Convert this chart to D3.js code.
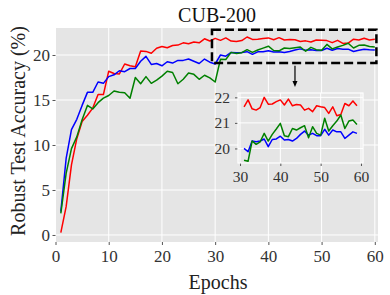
<!DOCTYPE html>
<html><head><meta charset="utf-8">
<script src="https://cdn.jsdelivr.net/npm/d3@7"></script>
<style>
body{margin:0;background:#fff}
svg{display:block}
text{font-family:"Liberation Serif","Times New Roman",serif}
</style>
</head><body>
<svg id="c" width="390" height="295"></svg>
<script>
const epochs=[1,2,3,4,5,6,7,8,9,10,11,12,13,14,15,16,17,18,19,20,21,22,23,24,25,26,27,28,29,30,
31,32,33,34,35,36,37,38,39,40,41,42,43,44,45,46,47,48,49,50,51,52,53,54,55,56,57,58,59,60];
const redSeries=[0.26,3.15,7.8,10.7,12.6,13.3,14.1,15.6,15.6,18.2,
17.95,17.9,19.0,18.8,18.7,20.45,20.4,20.2,20.75,20.95,
20.8,21.05,21.1,21.35,21.25,21.45,21.35,21.8,21.55,21.85,
21.63,21.9,21.55,21.5,21.6,22.0,21.73,21.74,21.83,21.9,
21.7,21.93,21.67,21.72,21.7,21.5,21.57,21.44,21.67,21.63,
21.6,21.37,21.63,21.28,21.33,21.76,21.67,21.86,21.67,21.75];
const blueSeries=[2.6,8.5,11.7,12.85,14.4,15.85,15.85,17.0,16.85,17.6,
17.8,18.25,18.15,18.5,18.5,19.3,19.85,18.95,19.05,18.8,
19.25,19.1,19.4,19.4,19.55,19.3,19.05,19.55,19.2,19.0,
20.0,19.87,20.29,20.26,20.29,20.37,20.07,20.35,20.37,20.48,
20.33,20.35,20.29,20.39,20.55,20.68,20.52,20.59,20.5,20.5,
20.75,20.52,20.72,20.65,20.65,20.39,20.52,20.65,20.59,20.55];
const greenSeries=[2.4,6.85,9.6,10.9,12.8,14.4,14.0,14.7,15.2,15.5,
16.0,15.85,15.8,15.2,17.5,16.8,17.6,16.85,17.2,17.65,
18.2,18.05,16.8,17.3,18.0,17.85,17.3,17.75,17.45,17.0,
19.54,19.5,20.29,20.16,20.26,20.59,20.29,20.55,20.76,20.98,
20.5,20.46,20.78,20.72,20.81,20.89,20.42,20.85,20.59,20.52,
21.18,20.68,20.89,21.07,21.31,20.78,21.07,21.11,20.94,20.9];
const seriesColors=["#ff0000","#0000ff","#008000"];
const xTickVals=[0,10,20,30,40,50,60];
const yTickVals=[0,5,10,15,20];
const insetXTicks=[30,40,50,60];
const insetYTicks=[20,21,22];
const insetEpochRange=[31,59];
const zoomBox={x0:29.4,x1:60.3,y0:19.1,y1:22.8};
const arrowAt={x:45,y0:18.8,y1:16.45};
const titleText="CUB-200", xLabel="Epochs", yLabel="Robust Test Accuracy (%)";

const svg=d3.select('#c');
const allSeries=[redSeries,blueSeries,greenSeries];

function drawAxes(g,x,y,xt,yt,fs,padX,padY){
  const [x0,x1]=x.range(),[y0,y1]=y.range();
  g.append('rect').attr('x',x0).attr('y',y1).attr('width',x1-x0).attr('height',y0-y1).attr('fill','#e5e5e5');
  g.selectAll('.gx').data(xt).join('line').attr('x1',d=>x(d)).attr('x2',d=>x(d)).attr('y1',y0).attr('y2',y1).attr('stroke','#fff').attr('stroke-width',1);
  g.selectAll('.gy').data(yt).join('line').attr('y1',d=>y(d)).attr('y2',d=>y(d)).attr('x1',x0).attr('x2',x1).attr('stroke','#fff').attr('stroke-width',1);
  const ax=g.append('g').attr('transform',`translate(0,${y0})`).call(d3.axisBottom(x).tickValues(xt).tickSize(3).tickPadding(padX).tickFormat(d3.format('d')));
  const ay=g.append('g').attr('transform',`translate(${x0},0)`).call(d3.axisLeft(y).tickValues(yt).tickSize(3).tickPadding(padY).tickFormat(d3.format('d')));
  [ax,ay].forEach(a=>{a.select('.domain').remove();a.selectAll('line').attr('stroke','#555');
    a.selectAll('text').attr('fill','#333').style('font-size',fs+'px').style('font-family','"Liberation Serif",serif');});
}
function drawLines(g,x,y,ep,clipId){
  const line=d3.line().x((d,i)=>x(ep[i])).y(d=>y(d));
  allSeries.forEach((s,k)=>{
    g.append('path').datum(s).attr('d',line).attr('fill','none').attr('stroke',seriesColors[k]).attr('stroke-width',1.5).attr('stroke-linejoin','round');
  });
}

// Main
const x=d3.scaleLinear().domain([0,60.6]).range([55.5,378]);
const y=d3.scaleLinear().domain([-0.78,23]).range([242,28]);
const main=svg.append('g');
drawAxes(main,x,y,xTickVals,yTickVals,17,5,2.5);
drawLines(main,x,y,epochs);

// zoom box
svg.append('rect').attr('x',x(zoomBox.x0)).attr('y',y(zoomBox.y1)).attr('width',x(zoomBox.x1)-x(zoomBox.x0)).attr('height',y(zoomBox.y0)-y(zoomBox.y1))
  .attr('fill','none').attr('stroke','#000').attr('stroke-width',2.5).attr('stroke-dasharray','9,4');
// arrow
const ax0=x(arrowAt.x), ay0=y(arrowAt.y0), ay1=y(arrowAt.y1);
svg.append('line').attr('x1',ax0).attr('x2',ax0).attr('y1',ay0).attr('y2',ay1-5).attr('stroke','#000').attr('stroke-width',1.2);
svg.append('path').attr('d',`M${ax0-2.5},${ay1-6}L${ax0+2.5},${ay1-6}L${ax0},${ay1}Z`).attr('fill','#000');

// Inset
const xi=d3.scaleLinear().domain([29.5,60.5]).range([238,363]);
const yi=d3.scaleLinear().domain([19.43,22.17]).range([163,93]);
const inset=svg.append('g');
drawAxes(inset,xi,yi,insetXTicks,insetYTicks,15.5,5,5);
inset.append('rect').attr('x',238).attr('y',93).attr('width',125).attr('height',70).attr('fill','none').attr('stroke','#fff').attr('stroke-width',1.2);
const iStart=epochs.indexOf(insetEpochRange[0]), iEnd=epochs.indexOf(insetEpochRange[1])+1;
const ep2=epochs.slice(iStart,iEnd);
const line2=d3.line().x((d,i)=>xi(ep2[i])).y(d=>yi(d));
allSeries.forEach((s,k)=>{
  inset.append('path').datum(s.slice(iStart,iEnd)).attr('d',line2).attr('fill','none').attr('stroke',seriesColors[k]).attr('stroke-width',1.5).attr('stroke-linejoin','round');
});

// Text
svg.append('text').attr('x',217).attr('y',21.5).attr('text-anchor','middle').style('font-size','20px').attr('fill','#111').text(titleText);
svg.append('text').attr('x',218).attr('y',289).attr('text-anchor','middle').style('font-size','20px').attr('fill','#222').text(xLabel);
svg.append('text').attr('transform','translate(25,131) rotate(-90)').attr('text-anchor','middle').style('font-size','20px').attr('fill','#222').text(yLabel);
</script>
</body></html>
